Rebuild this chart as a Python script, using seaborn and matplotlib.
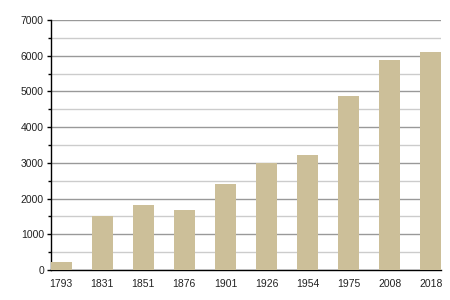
import matplotlib
matplotlib.use("Agg")
import matplotlib.pyplot as plt
import seaborn as sns
import pandas as pd
from matplotlib.ticker import MultipleLocator

years = ["1793", "1831", "1851", "1876", "1901", "1926", "1954", "1975", "2008", "2018"]
population = [230, 1510, 1820, 1680, 2410, 2990, 3220, 4880, 5880, 6110]

df = pd.DataFrame({"year": years, "pop": population})

sns.set_style("white")
plt.rcParams["font.family"] = ["Liberation Sans", "DejaVu Sans"]

fig = plt.figure(figsize=(4.5, 3), dpi=100)
ax = fig.add_axes([0.113, 0.1, 0.867, 0.8333])

sns.barplot(data=df, x="year", y="pop", color="#ccbf99", width=0.51,
            saturation=1, ax=ax, zorder=3, linewidth=0, edgecolor="none")

ax.set_xlim(-0.25, 9.25)
ax.set_ylim(0, 7000)
ax.yaxis.set_major_locator(MultipleLocator(1000))
ax.yaxis.set_minor_locator(MultipleLocator(500))
ax.grid(which="major", axis="y", color="#999999", linewidth=1, zorder=0)
ax.grid(which="minor", axis="y", color="#cccccc", linewidth=1, zorder=0)
ax.set_axisbelow(True)

for s in ["top", "right"]:
    ax.spines[s].set_visible(False)
for s in ["left", "bottom"]:
    ax.spines[s].set_visible(True)
    ax.spines[s].set_color("black")
    ax.spines[s].set_linewidth(1)

ax.tick_params(axis="y", which="major", left=True, length=3, width=1, color="black",
               labelsize=7.5, pad=2, labelcolor="#222222")
ax.tick_params(axis="y", which="minor", left=True, length=2, width=1, color="black")
ax.tick_params(axis="x", which="both", bottom=False, labelsize=7.5, pad=3, labelcolor="#222222")
ax.set_xlabel("")
ax.set_ylabel("")

fig.savefig("out.png", dpi=100)
